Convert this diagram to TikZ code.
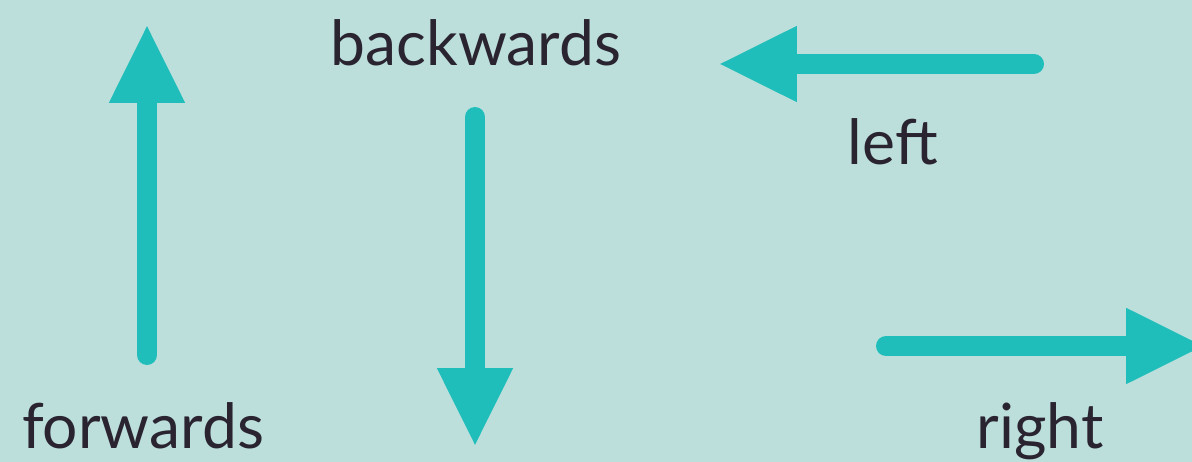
\documentclass[tikz,border=0pt]{standalone}
\usepackage{fontspec}
\setmainfont{Lato}
\usetikzlibrary{arrows.meta}
\definecolor{bgteal}{HTML}{BCDFDC}
\definecolor{arrteal}{HTML}{20BEBA}
\definecolor{inkdark}{HTML}{2A2430}

\begin{document}
\begin{tikzpicture}[
  x=0.02cm, y=-0.02cm,
  dirarr/.style={-{Triangle[length=1.58cm, width=1.4cm]}, line width=0.4cm, line cap=round, draw=arrteal},
  word/.style={anchor=base, text=inkdark, inner sep=0pt, font=\fontsize{35.5}{38}\selectfont}
]
  % Sfondo
  \fill[bgteal] (0,0) rectangle (1192,462);
  \useasboundingbox (0,0) rectangle (1192,462);
  \clip (0,0) rectangle (1192,462);

  % Estremi delle frecce
  \coordinate (fwdTail) at (147,355);  \coordinate (fwdTip) at (147,24);
  \coordinate (bwdTail) at (475,117);  \coordinate (bwdTip) at (475,447);
  \coordinate (lftTail) at (1034,64);  \coordinate (lftTip) at (718,64);
  \coordinate (rgtTail) at (886,346);  \coordinate (rgtTip) at (1205,346);

  % Etichette
  \node[word] (forwards)  at (143,448) {forwards};
  \node[word] (backwards) at (476,66)  {backwards};
  \node[word] (left)      at (893,165) {left};
  \node[word] (right)     at (1040,448) {right};

  % Frecce
  \draw[dirarr] (fwdTail) -- (fwdTip);
  \draw[dirarr] (bwdTail) -- (bwdTip);
  \draw[dirarr] (lftTail) -- (lftTip);
  \draw[dirarr] (rgtTail) -- (rgtTip);
\end{tikzpicture}
\end{document}
